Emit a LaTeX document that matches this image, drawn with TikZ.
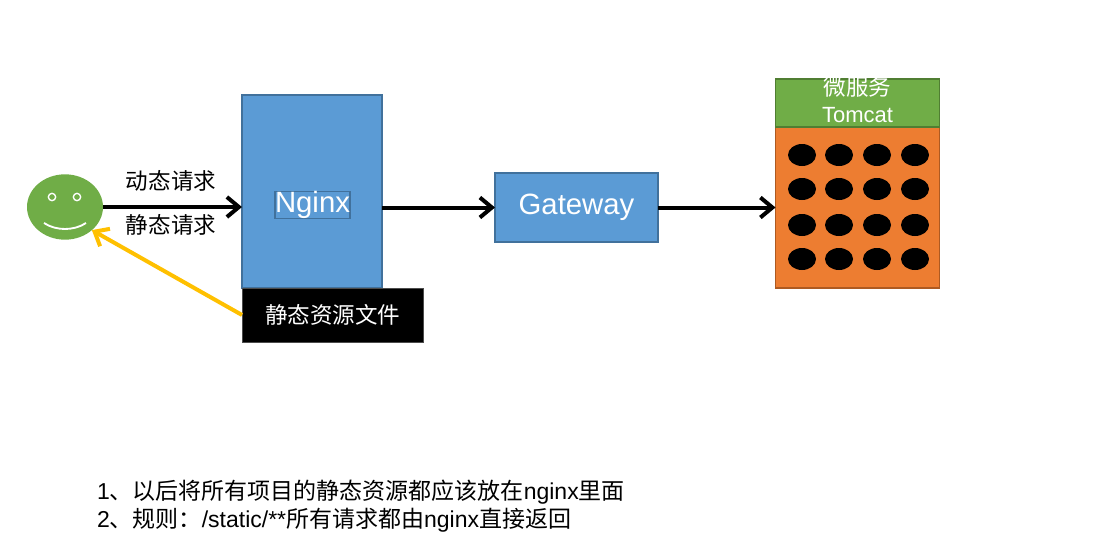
\documentclass[tikz,border=0pt]{standalone}
\usepackage{fontspec}
\setmainfont{Liberation Sans}
\newfontfamily\cjk{Noto Sans CJK SC}
\usetikzlibrary{arrows.meta,positioning,shapes.geometric}
\definecolor{boxblue}{HTML}{5B9BD5}
\definecolor{boxblueline}{HTML}{41719C}
\definecolor{boxgreen}{HTML}{70AD47}
\definecolor{boxgreenline}{HTML}{507E32}
\definecolor{boxorange}{HTML}{ED7D31}
\definecolor{boxorangeline}{HTML}{AE5A21}
\definecolor{backarrow}{HTML}{FFC000}
\newcommand{\zhsize}{\fontsize{16.9pt}{21pt}\selectfont\cjk}
\begin{document}
\begin{tikzpicture}[x=0.75pt,y=-0.75pt]
\tikzstyle{every node}=[inner sep=0pt,outer sep=0pt]
\tikzstyle{bluebox}=[draw=boxblueline,fill=boxblue,line width=0.9pt,text=white,font=\fontsize{22pt}{26pt}\selectfont]
\tikzstyle{hole}=[ellipse,fill=black,minimum width=21pt,minimum height=16.5pt]
\tikzstyle{flow}=[line width=3pt,-{Straight Barb[length=9pt,width=15pt,line width=3pt]}]
\tikzstyle{zhlabel}=[font=\zhsize,text=black]
\useasboundingbox (0,0) rectangle (1103,546);
\node[ellipse,fill=boxgreen,minimum width=57pt,minimum height=49pt] (face) at (65,207) {};
\node[circle,draw=white,line width=1pt,minimum size=5.5pt] (lefteye) at (52,197) {};
\node[circle,draw=white,line width=1pt,minimum size=5.5pt] (righteye) at (77,197) {};
\coordinate (smileleft) at (44,223);
\coordinate (smileright) at (86,223);
\draw[white,line width=1.4pt] (smileleft) .. controls (56,231) and (74,231) .. (smileright);
\node[bluebox,minimum width=105pt,minimum height=144.75pt] (nginx) at (312,191.5) {};
\node[bluebox] at (312.5,205) {Nginx};
\node[draw=black!70,fill=black,line width=0.5pt,minimum width=136pt,minimum height=40.5pt,below right=0pt and 0pt of nginx.south west,font=\zhsize,text=white] (staticfile) {静态资源文件};
\node[bluebox,minimum width=122.25pt,minimum height=51.75pt] (gateway) at (576.5,207.5) {Gateway};
\node[fill=boxorange,draw=boxorangeline,line width=0.9pt,minimum width=123pt,minimum height=120.75pt] (tomcat) at (857.5,207.5) {};
\node[fill=boxgreen,draw=boxgreenline,line width=0.9pt,minimum width=123pt,minimum height=36pt,above=0pt of tomcat.north] (service) {};
\node[text=white,font=\zhsize] at (857.5,87) {微服务};
\node[text=white,font=\fontsize{16.5pt}{20pt}\selectfont] at (857.5,115) {Tomcat};
\foreach \x/\i in {802/1,839/2,877/3,915/4}
\foreach \y/\j in {155/1,189/2,225/3,259/4}
\node[hole] (hole\i\j) at (\x,\y) {};
\node[zhlabel] (dynamic) at (171,181) {动态请求};
\node[zhlabel] (static) at (171,225) {静态请求};
\draw[flow] (face.east) -- (nginx.west |- face.east);
\draw[flow] (nginx.east |- gateway.west) -- (gateway.west);
\draw[flow] (gateway.east) -- (tomcat.west);
\draw[flow,draw=backarrow] (staticfile.west) -- (face.south east);
\node[anchor=west,font=\fontsize{17.25pt}{21pt}\selectfont] (ruleone) at (97,492) {1{\cjk、以后将所有项目的静态资源都应该放在}nginx{\cjk 里面}};
\node[anchor=west,font=\fontsize{17.25pt}{21pt}\selectfont] (ruletwo) at (97,520) {2{\cjk、规则：}/static/**{\cjk 所有请求都由}nginx{\cjk 直接返回}};
\end{tikzpicture}
\end{document}
